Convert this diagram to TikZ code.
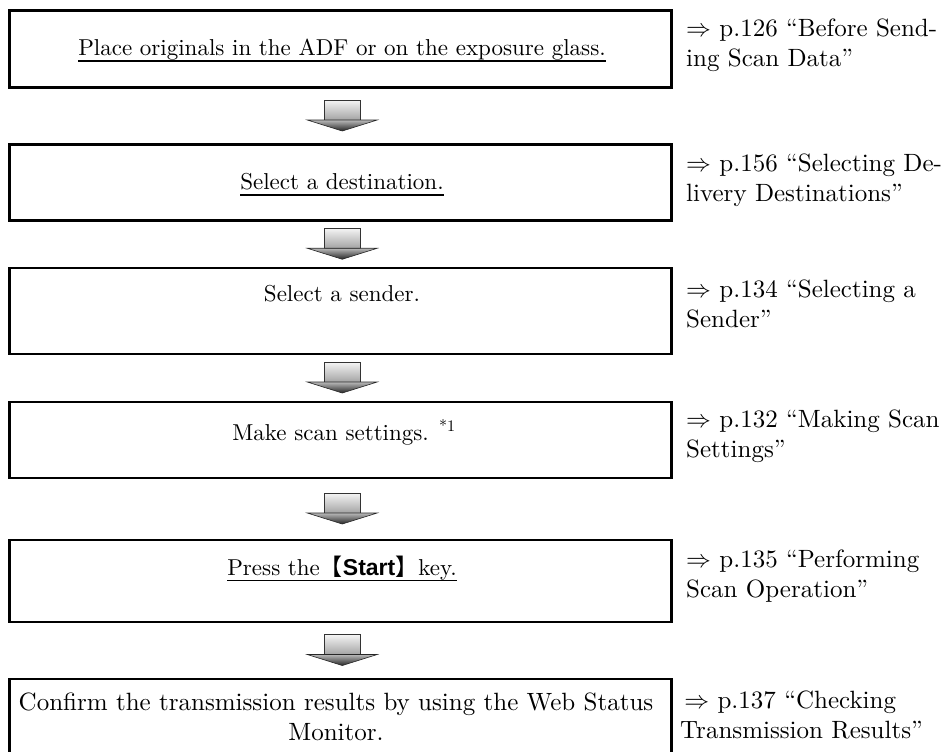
\documentclass[tikz,border=0pt]{standalone}
\usepackage{fontspec}
\setmainfont{lmroman10-regular.otf}[BoldFont=lmroman10-bold.otf, ItalicFont=lmroman10-italic.otf]
\newfontfamily\cjkfont{Noto Sans CJK JP}
\newfontfamily\keyfont{Liberation Sans}
\usetikzlibrary{calc}
\begin{document}
\begin{tikzpicture}[x=1pt,y=-1pt,
  box/.style={draw, line width=2.6pt, inner sep=0pt, minimum width=662pt},
  steptext/.style={inner sep=0pt, font=\fontsize{23}{30}\selectfont, align=center},
  lasttext/.style={inner sep=0pt, font=\fontsize{25}{30}\selectfont, align=center},
  reftext/.style={inner sep=0pt, anchor=west, align=left, font=\fontsize{25}{30}\selectfont},
  uline/.style={line width=1.6pt},
  blockarrow/.pic={
    \shade[top color=gray!8, bottom color=gray!72, draw=black!80, line width=0.6pt]
      (-18,0) rectangle (18,20);
    \shade[top color=gray!55, bottom color=black!85, draw=black!85, line width=0.6pt]
      (-35,20) -- (35,20) -- (0,31) -- cycle;
  }]
\useasboundingbox (0,0) rectangle (948,752);

% boxes
\node[box, minimum height=77pt] (b1) at (340.75,49) {};
\node[box, minimum height=76pt] (b2) at (340.75,182.5) {};
\node[box, minimum height=86pt] (b3) at (340.75,311) {};
\node[box, minimum height=76pt] (b4) at (340.75,440) {};
\node[box, minimum height=82pt] (b5) at (340.75,581) {};
\node[box, minimum height=86pt] (b6) at (340.75,722) {};

% step texts
\node[steptext] (t1) at (342,50) {Place originals in the ADF or on the exposure glass.};
\node[steptext] (t2) at (342,182) {Select a destination.};
\node[steptext] (t3) at (342,294) {Select a sender.};
\node[steptext] (t4) at (344,432) {Make scan settings. \textsuperscript{*1}};
\node[steptext] (t5) at (342,568) {Press the{\cjkfont 【}{\keyfont\bfseries Start}{\cjkfont 】}key.};
\node[lasttext] (t6) at (336,717) {Confirm the transmission results by using the Web Status\\Monitor.};

% underlines
\draw[uline] ([yshift=-5pt]t1.base west) -- ([yshift=-5pt]t1.base east);
\draw[uline] ([yshift=-5pt]t2.base west) -- ([yshift=-5pt]t2.base east);
\draw[uline] ([yshift=-5pt]t5.base west) -- ([yshift=-5pt]t5.base east);

% references
\node[reftext] (r1) at (686,45) {$\Rightarrow$ p.126 ``Before Send-\\ing Scan Data''};
\node[reftext] (r2) at (686,180) {$\Rightarrow$ p.156 ``Selecting De-\\livery Destinations''};
\node[reftext] (r3) at (686,304) {$\Rightarrow$ p.134 ``Selecting a\\Sender''};
\node[reftext] (r4) at (686,436) {$\Rightarrow$ p.132 ``Making Scan\\Settings''};
\node[reftext] (r5) at (686,576) {$\Rightarrow$ p.135 ``Performing\\Scan Operation''};
\node[reftext] (r6) at (680,715) {\,$\Rightarrow$ p.137 ``Checking\\Transmission Results''};

% block arrows between steps
\pic at ($($(b1.south)!0.5!(b2.north)$)+(1.5,-16)$) {blockarrow};
\pic at ($($(b2.south)!0.5!(b3.north)$)+(1.5,-16)$) {blockarrow};
\pic at ($($(b3.south)!0.5!(b4.north)$)+(1.5,-16)$) {blockarrow};
\pic at ($($(b4.south)!0.5!(b5.north)$)+(1.5,-16)$) {blockarrow};
\pic at ($($(b5.south)!0.5!(b6.north)$)+(1.5,-16)$) {blockarrow};
\end{tikzpicture}
\end{document}
